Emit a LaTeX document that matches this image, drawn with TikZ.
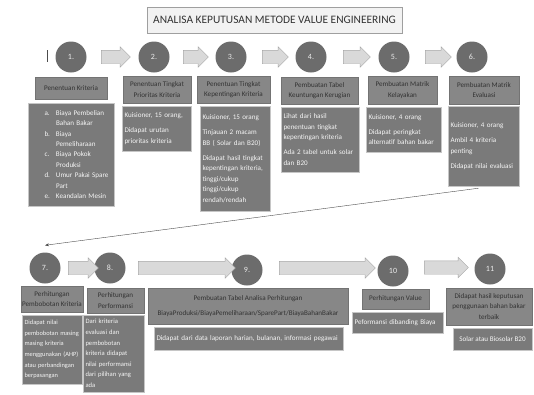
\documentclass[tikz,border=0pt]{standalone}
\usepackage{fontspec}
\setmainfont{Carlito}
\usetikzlibrary{shapes.arrows,arrows.meta}

\definecolor{hdrgray}{HTML}{878787}
\definecolor{boxgray}{HTML}{7A7A7A}
\definecolor{circgray}{HTML}{6C6C6C}
\definecolor{arrgray}{HTML}{D9D9D9}

\newcommand{\kitem}[2]{\hspace*{14pt}\makebox[11.5pt][l]{#1}#2}
\newcommand{\kcont}[1]{\hspace*{25.5pt}#1}

\begin{document}
\begin{tikzpicture}[x=1pt,y=-1pt,
        titlebox/.style={draw=gray!75,fill=gray!10,text=black!80,inner sep=0pt,
                minimum width=255,minimum height=26,font=\fontsize{11.4}{13}\selectfont},
        numc/.style={circle,fill=circgray,text=white!85!gray,minimum size=31,
                inner sep=0pt,font=\fontsize{8}{9}\selectfont},
        hdr/.style={draw=black!55,fill=hdrgray,text=black!80,align=center,
                inner sep=1pt,font=\fontsize{7.1}{10.4}\selectfont},
        cnt/.style={draw=gray!45,fill=boxgray,text=white!92!gray,align=left,
                inner sep=2.5pt,font=\fontsize{7.1}{10.4}\selectfont},
        blk/.style={single arrow,draw=gray!70,fill=arrgray,inner sep=0pt,
                text height=6.5pt,text depth=6.5pt,
                single arrow head extend=3.5pt}]

    \fill[white] (0,0) rectangle (534,394);
    \useasboundingbox (0,0) rectangle (534,394);

    \node[titlebox] (title) at (274.5,20) {ANALISA KEPUTUSAN METODE VALUE ENGINEERING};

    % first row
    \node[numc] (c1) at (71,57) {1.};
    \node[numc] (c2) at (154,57) {2.};
    \node[numc] (c3) at (231,57) {3.};
    \node[numc] (c4) at (311,57) {4.};
    \node[numc] (c5) at (394,57) {5.};
    \node[numc] (c6) at (472,57) {6.};
    \draw[black!70] (47,50) -- (47,62);

    \node[hdr,minimum width=72,minimum height=22] (h1) at (71,88) {Penentuan Kriteria};
    \node[hdr,minimum width=68,minimum height=27] (h2) at (157,89.5) {Penentuan Tingkat\\Prioritas Kriteria};
    \node[hdr,minimum width=73,minimum height=27] (h3) at (233.5,89.5) {Penentuan Tingkat\\Kepentingan Kriteria};
    \node[hdr,minimum width=77,minimum height=27] (h4) at (319.5,90.5) {Pembuatan Tabel\\Keuntungan Kerugian};
    \node[hdr,minimum width=69,minimum height=28] (h5) at (402.5,90) {Pembuatan Matrik\\Kelayakan};
    \node[hdr,minimum width=70,minimum height=28] (h6) at (484,90) {Pembuatan Matrik\\Evaluasi};

    \node[cnt,minimum width=86,minimum height=103,text width=81] (b1) at (71,154.5)
        {\kitem{a.}{Biaya Pembelian}\\ \kcont{Bahan Bakar}\\
         \kitem{b.}{Biaya}\\ \kcont{Pemeliharaan}\\
         \kitem{c.}{Biaya Pokok}\\ \kcont{Produksi}\\
         \kitem{d.}{Umur Pakai Spare}\\ \kcont{Part}\\
         \kitem{e.}{Keandalan Mesin}};
    \node[cnt,minimum width=69,minimum height=45,text width=64] (b2) at (156.5,128.5)
        {Kuisioner, 15 orang,\\[5pt]Didapat urutan\\prioritas kriteria};
    \node[cnt,minimum width=70,minimum height=105,text width=65] (b3) at (235,158.5)
        {Kuisioner, 15 orang\\[5pt]Tinjauan 2 macam\\BB ( Solar dan B20)\\[5pt]Didapat hasil tingkat\\
         kepentingan kriteria,\\tinggi/cukup\\tinggi/cukup\\rendah/rendah};
    \node[cnt,minimum width=78,minimum height=65,text width=73] (b4) at (320,139.5)
        {Lihat dari hasil\\penentuan tingkat\\kepentingan kriteria\\[5pt]Ada 2 tabel untuk solar\\dan B20};
    \node[cnt,minimum width=75,minimum height=45,text width=70] (b5) at (403.5,129.5)
        {Kuisioner, 4 orang\\[5pt]Didapat peringkat\\alternatif bahan bakar};
    \node[cnt,minimum width=71,minimum height=80,text width=66] (b6) at (483.5,146)
        {Kuisioner, 4 orang\\[5pt]Ambil 4 kriteria\\penting\\[5pt]Didapat nilai evaluasi};

    \foreach \xa/\xb in {98/127,180/205,259/285,340/367,422/448}
        \node[blk,minimum height=\xb-\xa] at ({(\xa+\xb)/2},57) {};

    % second row
    \node[numc] (c7) at (45,268) {7.};
    \node[numc] (c8) at (110,268) {8.};
    \node[numc] (c9) at (247,270) {9.};
    \node[numc] (c10) at (393,271) {10};
    \node[numc] (c11) at (490,269) {11};

    \foreach \xa/\xb/\yy in {65/95/268,135/232/268,276/372/268,421/465/267.5}
        \node[blk,minimum height=\xb-\xa] at ({(\xa+\xb)/2},\yy) {};

    \node[hdr,minimum width=60,minimum height=26] (h7) at (52,299) {Perhitungan\\Pembobotan Kriteria};
    \node[hdr,minimum width=57,minimum height=25] (h8) at (115.5,300.5) {Perhitungan\\Performansi};
    \node[hdr,minimum width=200,minimum height=36] (h9) at (248,306) {Pembuatan Tabel Analisa Perhitungan\\[5pt]
        BiayaProduksi/BiayaPemeliharaan/SparePart/BiayaBahanBakar};
    \node[hdr,minimum width=67,minimum height=20] (h10) at (395.5,299) {Perhitungan Value};
    \node[hdr,minimum width=86,minimum height=37] (h11) at (489,306.5) {Didapat hasil keputusan\\penggunaan bahan bakar\\terbaik};

    \node[cnt,minimum width=60,minimum height=69,text width=55,font=\fontsize{6.4}{10.6}\selectfont] (b7) at (52,349.5)
        {Didapat nilai\\pembobotan masing\\masing kriteria\\menggunakan (AHP)\\atau perbandingan\\berpasangan};
    \node[cnt,minimum width=61,minimum height=77,text width=56,font=\fontsize{6.6}{10.6}\selectfont] (b8) at (113.5,353.5)
        {Dari kriteria\\evaluasi dan\\pembobotan\\kriteria didapat\\nilai performansi\\dari pilihan yang\\ada};
    \node[cnt,minimum width=189,minimum height=23,text width=184] (b9) at (248.5,338.5)
        {Didapat dari data laporan harian, bulanan, informasi pegawai};
    \node[cnt,minimum width=91,minimum height=21,text width=86] (b10) at (397.5,322.5)
        {Peformansi dibanding Biaya};
    \node[cnt,minimum width=79,minimum height=22,align=center] (b11) at (492.5,339)
        {Solar atau Biosolar B20};

    \draw[gray!60!black,-{Stealth[length=4pt,width=3pt]}] ([xshift=-5pt,yshift=-2pt]b6.south) -- ([yshift=7pt]c7.north);
\end{tikzpicture}
\end{document}
